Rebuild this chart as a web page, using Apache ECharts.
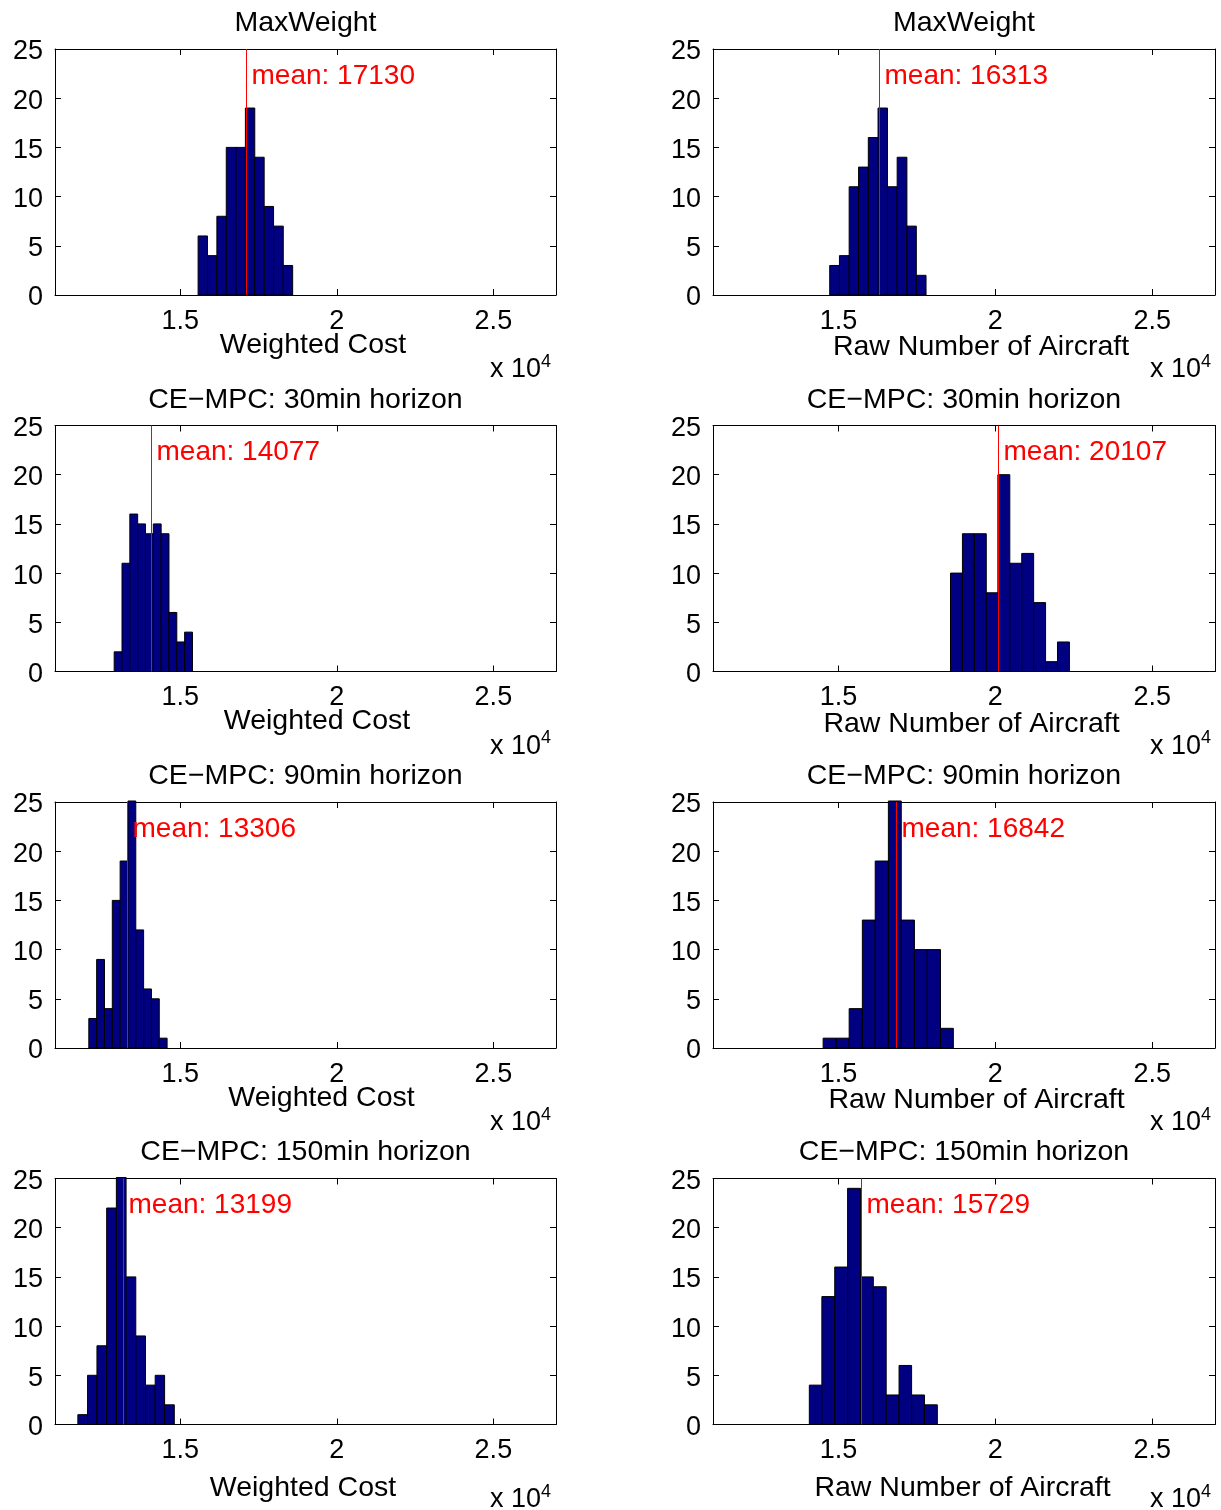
<!DOCTYPE html>
<html>
<head>
<meta charset="utf-8">
<script src="https://cdn.jsdelivr.net/npm/echarts@6/dist/echarts.min.js"></script>
<style>
  html, body { margin: 0; padding: 0; background: #fff; }
  #chart { width: 1221px; height: 1510px; }
</style>
</head>
<body>
<div id="chart"></div>
<script>
// panel order: row by row, left (weighted cost) then right (raw aircraft)
const rowTitles = ['MaxWeight', 'CE\u2212MPC: 30min horizon', 'CE\u2212MPC: 90min horizon', 'CE\u2212MPC: 150min horizon']
const colXLabels = ['Weighted Cost', 'Raw Number of Aircraft']
const xTickVals = [15000, 20000, 25000]
const xTickLabels = ['1.5', '2', '2.5']
const X_MIN = 11000, X_MAX = 27000
const Y_MAX = 25

const means = [17130, 16313, 14077, 20107, 13306, 16842, 13199, 15729]

// bin edges (10 bins each)
const edges1 = [15570, 15870, 16170, 16470, 16780, 17080, 17380, 17680, 17980, 18290, 18590]
const edges2 = [14720, 15030, 15340, 15640, 15950, 16260, 16560, 16870, 17180, 17480, 17790]
const edges3 = [12890, 13140, 13390, 13640, 13890, 14140, 14390, 14640, 14890, 15140, 15390]
const edges4 = [18570, 18950, 19330, 19710, 20080, 20460, 20840, 21220, 21600, 21980, 22360]
const edges5 = [12080, 12330, 12580, 12830, 13080, 13330, 13580, 13830, 14080, 14330, 14580]
const edges6 = [14510, 14930, 15340, 15760, 16170, 16590, 17000, 17420, 17830, 18250, 18660]
const edges7 = [11730, 12040, 12340, 12650, 12960, 13270, 13580, 13890, 14200, 14500, 14810]
const edges8 = [14070, 14470, 14880, 15290, 15700, 16110, 16520, 16930, 17330, 17740, 18150]

const counts1 = [6, 4, 8, 15, 15, 19, 14, 9, 7, 3]
const counts2 = [3, 4, 11, 13, 16, 19, 11, 14, 7, 2]
const counts3 = [2, 11, 16, 15, 14, 15, 14, 6, 3, 4]
const counts4 = [10, 14, 14, 8, 20, 11, 12, 7, 1, 3]
const counts5 = [3, 9, 4, 15, 19, 26, 12, 6, 5, 1]
const counts6 = [1, 1, 4, 13, 19, 27, 13, 10, 10, 2]
const counts7 = [1, 5, 8, 22, 29, 15, 9, 4, 5, 2]
const counts8 = [4, 13, 16, 24, 15, 14, 3, 6, 3, 2]

const allEdges = [edges1, edges2, edges3, edges4, edges5, edges6, edges7, edges8]
const allCounts = [counts1, counts2, counts3, counts4, counts5, counts6, counts7, counts8]

// layout
const colLeft = [55, 713]
const colWidth = [501, 502]
const rowTop = [49, 425.5, 802, 1178.5]
const gridH = 246
const FONT = "'Liberation Sans', Arial, Helvetica, sans-serif"
const FS = 27     // tick labels
const FS_T = 28.5 // titles, axis names

const titleY = [23, 400, 776, 1152]
const xlabPos = [[313, 345], [981, 347], [317, 721], [971.5, 724], [321.5, 1098], [976.5, 1100], [303, 1488], [962.5, 1488]]
const expY = [370, 746.5, 1123, 1500]
const expX = [490, 1150]

const chart = echarts.init(document.getElementById('chart'), null, { renderer: 'canvas' })

function renderBar(params, api) {
  const p0 = api.coord([api.value(0), 0])
  const p1 = api.coord([api.value(1), api.value(2)])
  const cs = params.coordSys
  const shape = echarts.graphic.clipRectByRect(
    { x: p0[0], y: p1[1], width: p1[0] - p0[0], height: p0[1] - p1[1] },
    { x: cs.x, y: cs.y - 1, width: cs.width, height: cs.height + 1 }
  )
  if (!shape) return
  return { type: 'rect', shape, style: { fill: '#000080', stroke: '#000', lineWidth: 1 } }
}

// red vertical line at the mean, with its label to the right
function renderMean(params, api) {
  const m = api.value(0)
  const top = api.coord([m, Y_MAX])
  const bot = api.coord([m, 0])
  const x = Math.floor(top[0]) + 0.5
  return {
    type: 'group',
    children: [
      { type: 'line', shape: { x1: x, y1: top[1], x2: x, y2: bot[1] }, style: { stroke: '#ff0000', lineWidth: 1 } },
      {
        type: 'text', x: x + 5, y: top[1] + 27,
        style: { text: 'mean: ' + m, fill: '#ff0000', font: '28px ' + FONT, textAlign: 'left', textVerticalAlign: 'middle' }
      }
    ]
  }
}

const grid = [], xAxis = [], yAxis = [], series = [], graphic = []
const axisLine = { show: true, onZero: false, lineStyle: { color: '#000', width: 1 } }
const tick = { show: true, inside: true, length: 6, lineStyle: { color: '#000', width: 1 } }

for (let i = 0; i < 8; i++) {
  const col = i % 2, row = Math.floor(i / 2)
  grid.push({ left: colLeft[col], top: rowTop[row], width: colWidth[col], height: gridH })

  xAxis.push({
    gridIndex: i, type: 'value', min: X_MIN, max: X_MAX, position: 'bottom',
    axisLine, splitLine: { show: false },
    axisTick: { ...tick, customValues: xTickVals },
    axisLabel: {
      customValues: xTickVals, margin: 13, color: '#000', fontSize: FS, fontFamily: FONT,
      formatter: v => xTickLabels[xTickVals.indexOf(v)]
    }
  })
  xAxis.push({
    gridIndex: i, type: 'value', min: X_MIN, max: X_MAX, position: 'top',
    axisLine, splitLine: { show: false },
    axisTick: { ...tick, customValues: xTickVals },
    axisLabel: { show: false }
  })
  yAxis.push({
    gridIndex: i, type: 'value', min: 0, max: Y_MAX, interval: 5, position: 'left',
    axisLine, splitLine: { show: false }, axisTick: tick,
    axisLabel: {
      margin: 12, color: '#000',
      formatter: v => '{p|' + v + '}',
      rich: { p: { fontSize: FS, fontFamily: FONT, color: '#000', padding: [6, 0, 0, 0] } }
    }
  })
  yAxis.push({
    gridIndex: i, type: 'value', min: 0, max: Y_MAX, interval: 5, position: 'right',
    axisLine, splitLine: { show: false }, axisTick: tick, axisLabel: { show: false }
  })

  const e = allEdges[i]
  series.push({
    type: 'custom',
    xAxisIndex: 2 * i, yAxisIndex: 2 * i,
    renderItem: renderBar,
    encode: { x: [0, 1], y: 2 },
    data: allCounts[i].map((c, k) => [e[k], e[k + 1], c]),
    silent: true
  })
  series.push({
    type: 'custom',
    xAxisIndex: 2 * i, yAxisIndex: 2 * i,
    renderItem: renderMean,
    encode: { x: 0 },
    data: [[means[i]]],
    silent: true,
    z: 5
  })

  graphic.push({
    type: 'text', x: xlabPos[i][0], y: xlabPos[i][1],
    style: { text: colXLabels[col], font: FS_T + 'px ' + FONT, fill: '#000', textAlign: 'center', textVerticalAlign: 'middle' }
  })
  graphic.push({
    type: 'text', x: expX[col], y: expY[row],
    style: { text: 'x 10', font: FS + 'px ' + FONT, fill: '#000', textAlign: 'left', textVerticalAlign: 'middle' }
  })
  graphic.push({
    type: 'text', x: expX[col] + 51, y: expY[row] - 8,
    style: { text: '4', font: '18px ' + FONT, fill: '#000', textAlign: 'left', textVerticalAlign: 'middle' }
  })
  graphic.push({
    type: 'text', x: colLeft[col] + colWidth[col] / 2, y: titleY[row],
    style: { text: rowTitles[row], font: FS_T + 'px ' + FONT, fill: '#000', textAlign: 'center', textVerticalAlign: 'middle' }
  })
}

chart.setOption({
  animation: false,
  backgroundColor: '#fff',
  grid, xAxis, yAxis, series, graphic
})
</script>
</body>
</html>
